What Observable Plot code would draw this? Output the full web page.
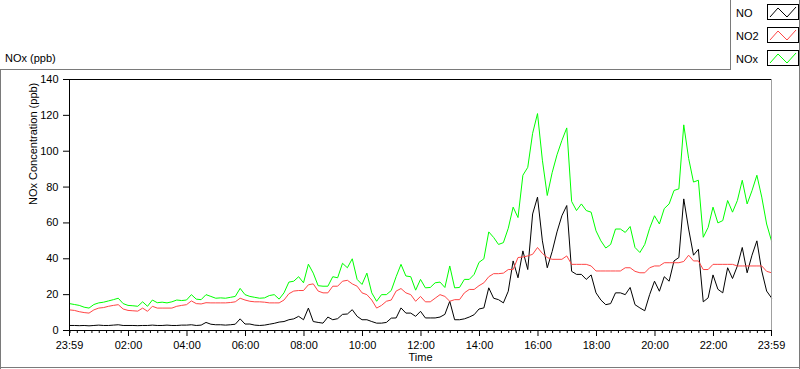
<!DOCTYPE html>
<html>
<head>
<meta charset="utf-8">
<script src="https://cdn.jsdelivr.net/npm/d3@7"></script>
<script src="https://cdn.jsdelivr.net/npm/@observablehq/plot@0.6"></script>
<style>
  html, body { margin: 0; padding: 0; background: #fff; }
  #wrap { position: relative; width: 800px; height: 369px; overflow: hidden; font-family: "Liberation Sans", Arial, sans-serif; }
  #wrap svg { display: block; }
  #overlay { position: absolute; left: 0; top: 0; pointer-events: none; }
</style>
</head>
<body>
<div id="wrap"></div>
<script>
// Minutes from midnight; -1 = 23:59 of previous day, 1439 = 23:59. Samples every 10 minutes.
const startMinute = -1;
const stepMinutes = 10;

const NO = [
  2.8,2.8,2.7,2.8,2.6,2.8,3,2.8,2.8,3,
  3.2,2.8,2.8,2.8,2.7,2.8,2.8,3,2.8,2.8,
  3,2.8,2.8,3,3,3.2,2.8,3,4.5,3.5,
  3.2,3.2,3,3.2,3.5,6.5,3.6,3.6,3,2.8,
  3,3.5,4,4.7,5,6,6.5,7.9,6,12.5,
  5,4.5,4.1,7.5,6,6.6,9,9.2,11.6,7.9,
  6,6,5,4.1,4.1,4.5,6.9,7,12.6,9.7,
  9.7,7.9,10.7,7,7,7,7.5,9,16.3,6,
  6,6.5,7.5,8.8,12,12.6,23.8,18,17.2,15.4,
  21.9,38.8,29.4,44.4,34,65,74.4,50,35,44,
  55,64,69.7,33,31.3,31.3,28.5,31,21,17,
  14.4,15,21,21,20,24,14.4,12.6,11,20,
  27.5,21.9,30,27.5,38.8,40.7,73.4,56.6,42,45.3,
  16,18.2,31,23,21,35,29,36,46.3,32.2,
  42,50,33.2,22,18.2
];

const NO2 = [
  11.5,11.2,10.5,10,9.7,11.5,12.5,12.8,13.5,14,
  14.4,12,11.2,11,10.8,12.5,10.7,13.5,12.5,12.5,
  12.5,12.5,13.5,14,14.4,16.5,15,14.8,15.5,15.4,
  15.4,15.4,15.4,15.6,16,18,17,16.3,16,16,
  15.8,15.4,15.4,15.4,17,20.5,22,22.3,22.3,25.5,
  26,22,21,21,24.7,24.7,27.5,28,26,24.7,
  21,20,17,12.5,14,16.3,17,22,23.4,21,
  20,16.3,19,16,16,18,20,19,16.3,17.2,
  17.2,21,22.9,22.9,25,26.6,30,31.7,31.7,32,
  34,34,40.7,41,41.6,42.5,46.3,43,40.7,39.7,
  39.7,39.7,41.6,36.9,36.9,36.9,36.9,36,33.2,33.2,
  33.2,33.2,33.2,33.2,35,35,33,32.2,32.2,35,
  36,36,37.8,37.8,37.8,37.8,38.5,42,38.8,38.8,
  34,34,36.9,36.9,36.9,36.9,36.9,36,36,36,
  36,36,36,33,32.2
];

const NOx = [
  15,14.5,14,13,12.5,14.5,15.4,15.8,16.5,17.2,
  18,15,14,13.8,13.5,16,13.5,17,15.5,15.8,
  15.4,16,17,16.7,17,20,17.5,17.2,20,19,
  18,18.2,18,18.5,19,23.5,20,19,18.5,18,
  18.2,19.5,20,17.5,21,27,27.5,30,26.6,37,
  32,25,24.7,24.7,30,29.4,37.5,35,40,28.5,
  25.7,32,21,16.3,20,20,22.3,30,36.9,30.4,
  30,22.5,28.5,23.8,24,26.6,27,24,36,23.8,
  24,28.5,28.5,31.3,38,40,55,51.9,48,49,
  57,68.8,63,86.6,91,110,121,95,75.3,88,
  98,106,113,72,66.9,70.6,66.9,66,55.6,50,
  46,48,56.6,56.6,54.7,58,46.3,43.5,48,57,
  64,59.4,68,70.6,78.1,79,114.7,96,82.8,83.8,
  52,57.5,68.8,60,61.3,72.5,66,72.5,83.8,70.6,
  78,86.6,74.4,59.4,50
];

const seriesNames = ["NO", "NO2", "NOx"];
const seriesColors = ["#000000", "#ff4545", "#00ff00"];

const yTicks = [0, 20, 40, 60, 80, 100, 120, 140];
const xMajorTicks = [-1, 120, 240, 360, 480, 600, 720, 840, 960, 1080, 1200, 1320, 1439];
const xTickLabels = ["23:59","02:00","04:00","06:00","08:00","10:00","12:00","14:00","16:00","18:00","20:00","22:00","23:59"];
const xMinorTicks = d3.range(0, 1440, 15).filter(m => m % 120 !== 0 || m === 0);

const titleText = "NOx (ppb)";
const yLabel = "NOx Concentration (ppb)";
const xLabel = "Time";

const rows = NO.map((v, i) => ({
  t: startMinute + i * stepMinutes,
  NO: v,
  NO2: NO2[i],
  NOx: NOx[i]
}));

const labelFor = new Map(xMajorTicks.map((m, i) => [m, xTickLabels[i]]));

const chart = Plot.plot({
  width: 800,
  height: 369,
  marginLeft: 69,
  marginRight: 29,
  marginTop: 79,
  marginBottom: 39,
  style: {fontFamily: "'Liberation Sans', Arial, sans-serif", fontSize: "11px", background: "transparent", color: "#000"},
  x: {domain: [-1, 1439]},
  y: {domain: [0, 140]},
  marks: [
    Plot.axisY({ticks: yTicks, tickSize: 6, tickPadding: 5, label: null}),
    Plot.axisX({ticks: xMinorTicks, tickSize: 3, tickFormat: () => "", label: null}),
    Plot.axisX({ticks: xMajorTicks, tickSize: 6, tickPadding: 5, tickFormat: d => labelFor.get(d), label: null}),
    Plot.line(rows, {x: "t", y: "NO", stroke: seriesColors[0], strokeWidth: 1}),
    Plot.line(rows, {x: "t", y: "NO2", stroke: seriesColors[1], strokeWidth: 1}),
    Plot.line(rows, {x: "t", y: "NOx", stroke: seriesColors[2], strokeWidth: 1}),
    Plot.ruleX([1439], {stroke: "#a0a0a0"}),
    Plot.ruleX([-1], {stroke: "#000"}),
    Plot.ruleY([140], {stroke: "#000"}),
    Plot.ruleY([0], {stroke: "#000"}),
    Plot.text([yLabel], {frameAnchor: "left", dx: -36, rotate: -90, fill: "#000"}),
    Plot.text([xLabel], {frameAnchor: "bottom", dy: 30, fill: "#000"})
  ]
});

const wrap = document.getElementById("wrap");
wrap.appendChild(chart);

// Panel frame, title and legend
const ns = "http://www.w3.org/2000/svg";
const ov = document.createElementNS(ns, "svg");
ov.setAttribute("id", "overlay");
ov.setAttribute("width", 800);
ov.setAttribute("height", 369);
function el(tag, attrs, text) {
  const e = document.createElementNS(ns, tag);
  for (const k in attrs) e.setAttribute(k, attrs[k]);
  if (text != null) e.textContent = text;
  ov.appendChild(e);
  return e;
}
const frameColor = "#7a7a7a";
el("line", {x1: 0, y1: 69.5, x2: 731, y2: 69.5, stroke: frameColor});
el("line", {x1: 730.5, y1: 0, x2: 730.5, y2: 70, stroke: frameColor});
el("line", {x1: 0.5, y1: 69, x2: 0.5, y2: 369, stroke: frameColor});
el("line", {x1: 0, y1: 367.5, x2: 800, y2: 367.5, stroke: frameColor});
el("line", {x1: 799.5, y1: 0, x2: 799.5, y2: 369, stroke: frameColor});
el("text", {x: 5, y: 62, "font-size": 11, "font-family": "'Liberation Sans', Arial, sans-serif", fill: "#000"}, titleText);
seriesNames.forEach((name, i) => {
  const top = 4 + i * 23;
  el("text", {x: 736, y: top + 13, "font-size": 11, "font-family": "'Liberation Sans', Arial, sans-serif", fill: "#000"}, name);
  el("rect", {x: 767.5, y: top + 0.5, width: 31, height: 15, fill: "#fff", stroke: "#000"});
  el("polyline", {points: `${770},${top + 13} ${778},${top + 4} ${787},${top + 13} ${796},${top + 3}`, fill: "none", stroke: seriesColors[i], "stroke-width": 1});
});
wrap.appendChild(ov);
</script>
</body>
</html>
